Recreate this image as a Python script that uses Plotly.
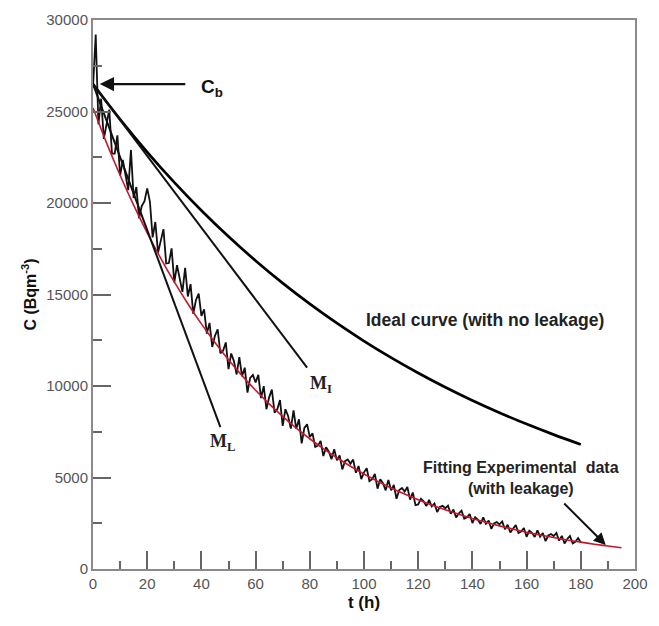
import plotly.graph_objects as go

# ---------------- data ----------------
t_data = list(range(0, 181))
c_data = [
    26300, 29200, 24300, 25700, 23500, 24250, 25100, 22700, 22700, 23700,
    21500, 22350, 21600, 20700, 22900, 20270, 20870, 19160, 19840, 20100,
    20800, 20080, 18120, 18960, 17290, 17860, 18570, 16700, 16720, 17520,
    15660, 16600, 15940, 15140, 16450, 14890, 15570, 13940, 14700, 15050,
    13830, 14184, 12860, 13450, 12130, 12740, 13100, 11790, 11920, 12380,
    10920, 11780, 11360, 10630, 11580, 10530, 11000, 9640, 10440, 10600,
    10200, 10610, 9340, 9990, 8730, 9380, 9800, 8540, 8730, 9230,
    7820, 8730, 8360, 7670, 8670, 7660, 8180, 6860, 7710, 7910,
    7210, 7410, 6670, 6740, 7000, 6170, 6650, 6420, 6000, 6540,
    5940, 6210, 5440, 5890, 5980, 5750, 5980, 5260, 5630, 4910,
    5280, 5510, 4800, 4910, 5190, 4390, 4900, 4690, 4300, 4860,
    4300, 4590, 3840, 4320, 4430, 4230, 4480, 3790, 4180, 3490,
    3530, 3840, 3700, 3440, 3780, 3420, 3580, 3110, 3390, 3450,
    3320, 3460, 3020, 3250, 2810, 3040, 3190, 2750, 2820, 3000,
    2510, 2830, 2700, 2460, 2820, 2470, 2650, 2190, 2490, 2560,
    2440, 2600, 2170, 2420, 1990, 2230, 2400, 1970, 2050, 2240,
    1760, 2090, 1980, 1750, 2110, 1770, 1970, 1520, 1830, 1910,
    1800, 1970, 1550, 1810, 1390, 1640, 1810, 1400, 1490, 1690,
    1450,
]

t_fit = [0, 5, 10, 15, 20, 25, 30, 35, 40, 45, 50, 55, 60, 65, 70, 75, 80, 85, 90, 95,
         100, 105, 110, 115, 120, 125, 130, 135, 140, 145, 150, 155, 160, 165, 170, 175,
         180, 185, 190, 195]
c_fit = [25200, 23286, 21518, 19883, 18372, 16977, 15687, 14495, 13394, 12377,
         11437, 10568, 9765, 9023, 8338, 7703, 7118, 6577, 6078, 5617,
         5190, 4796, 4431, 4096, 3786, 3499, 3233, 2987, 2760, 2550,
         2357, 2178, 2012, 1858, 1717, 1587, 1467, 1356, 1253, 1158]

t_ideal = [0, 10, 20, 30, 40, 50, 60, 70, 80, 90, 100, 110, 120, 130, 140, 150, 160, 170, 180]
c_ideal = [26500, 24573, 22786, 21129, 19592, 18168, 16847, 15622, 14486, 13432,
           12455, 11550, 10710, 9931, 9209, 8539, 7918, 7343, 6809]

t_mi = [0, 79]
c_mi = [26500, 11000]
t_ml = [0, 47]
c_ml = [26500, 7750]

x_ticks = [0, 20, 40, 60, 80, 100, 120, 140, 160, 180, 200]
y_ticks = [0, 5000, 10000, 15000, 20000, 25000, 30000]

FONT = "Arial, Liberation Sans, sans-serif"
SERIF = "Liberation Serif, Times New Roman, serif"

fig = go.Figure()
fig.add_trace(go.Scatter(x=t_data, y=c_data, mode="lines",
                         line=dict(color="#111111", width=1.8), hoverinfo="skip"))
fig.add_trace(go.Scatter(x=t_fit, y=c_fit, mode="lines", line_shape="spline",
                         line=dict(color="rgb(195,25,45)", width=1.6), hoverinfo="skip"))
fig.add_trace(go.Scatter(x=t_ideal, y=c_ideal, mode="lines", line_shape="spline",
                         line=dict(color="#000000", width=2.7), hoverinfo="skip"))
fig.add_trace(go.Scatter(x=t_mi, y=c_mi, mode="lines",
                         line=dict(color="#111111", width=2), hoverinfo="skip"))
fig.add_trace(go.Scatter(x=t_ml, y=c_ml, mode="lines",
                         line=dict(color="#111111", width=2), hoverinfo="skip"))

axis_common = dict(
    showgrid=False, zeroline=False, showline=True, linecolor="#8a8a8a", linewidth=2,
    mirror=True, ticks="inside", tickcolor="#666666", tickwidth=1.5,
    tickfont=dict(family=FONT, size=15, color="#555555"),
)

fig.update_xaxes(range=[0, 200], tickvals=x_ticks, tickformat="d", ticklen=18,
                 minor=dict(dtick=10, ticklen=8, ticks="inside", tickcolor="#666666", tickwidth=1.5),
                 title=dict(text="<b>t (h)</b>", font=dict(family=FONT, size=17, color="#111"),
                            standoff=5),
                 **axis_common)
fig.update_yaxes(range=[0, 30000], tickvals=y_ticks, tickformat="d", ticklen=18,
                 minor=dict(dtick=2500, ticklen=9, ticks="inside", tickcolor="#666666", tickwidth=1.5),
                 title=dict(text="<b>C (Bqm<sup>-3</sup>)</b>", font=dict(family=FONT, size=16, color="#111"),
                            standoff=6),
                 **axis_common)

ann = []
# Cb arrow
ann.append(dict(x=2.5, y=26500, xref="x", yref="y", ax=87, ay=0, axref="pixel", ayref="pixel",
                showarrow=True, arrowhead=2, arrowsize=1.3, arrowwidth=2.2, arrowcolor="#111",
                text=""))
ann.append(dict(x=44.0, y=26300, xref="x", yref="y", showarrow=False,
                text="<b>C<sub>b</sub></b>", font=dict(family=FONT, size=19, color="#111")))
ann.append(dict(x=144.5, y=13600, xref="x", yref="y", showarrow=False,
                text="<b>Ideal curve (with no leakage)</b>", font=dict(family=FONT, size=17.5, color="#222")))
ann.append(dict(x=84, y=10100, xref="x", yref="y", showarrow=False,
                text="<b>M<sub>I</sub></b>", font=dict(family=SERIF, size=18, color="#222")))
ann.append(dict(x=47.6, y=6900, xref="x", yref="y", showarrow=False,
                text="<b>M<sub>L</sub></b>", font=dict(family=SERIF, size=18, color="#222")))
ann.append(dict(x=157.8, y=5000, xref="x", yref="y", showarrow=False, align="center",
                text="<b>Fitting Experimental  data<br>(with leakage)</b>",
                font=dict(family=FONT, size=16, color="#222")))
ann.append(dict(x=189.2, y=1310, xref="x", yref="y", ax=-43, ay=-43,
                showarrow=True, arrowhead=2, arrowsize=1.2, arrowwidth=2, arrowcolor="#111", text=""))

fig.update_layout(
    width=659, height=626,
    margin=dict(l=93, r=11, t=20, b=57),
    paper_bgcolor="white", plot_bgcolor="white",
    showlegend=False,
    annotations=ann,
)

fig.write_html("out.html")
